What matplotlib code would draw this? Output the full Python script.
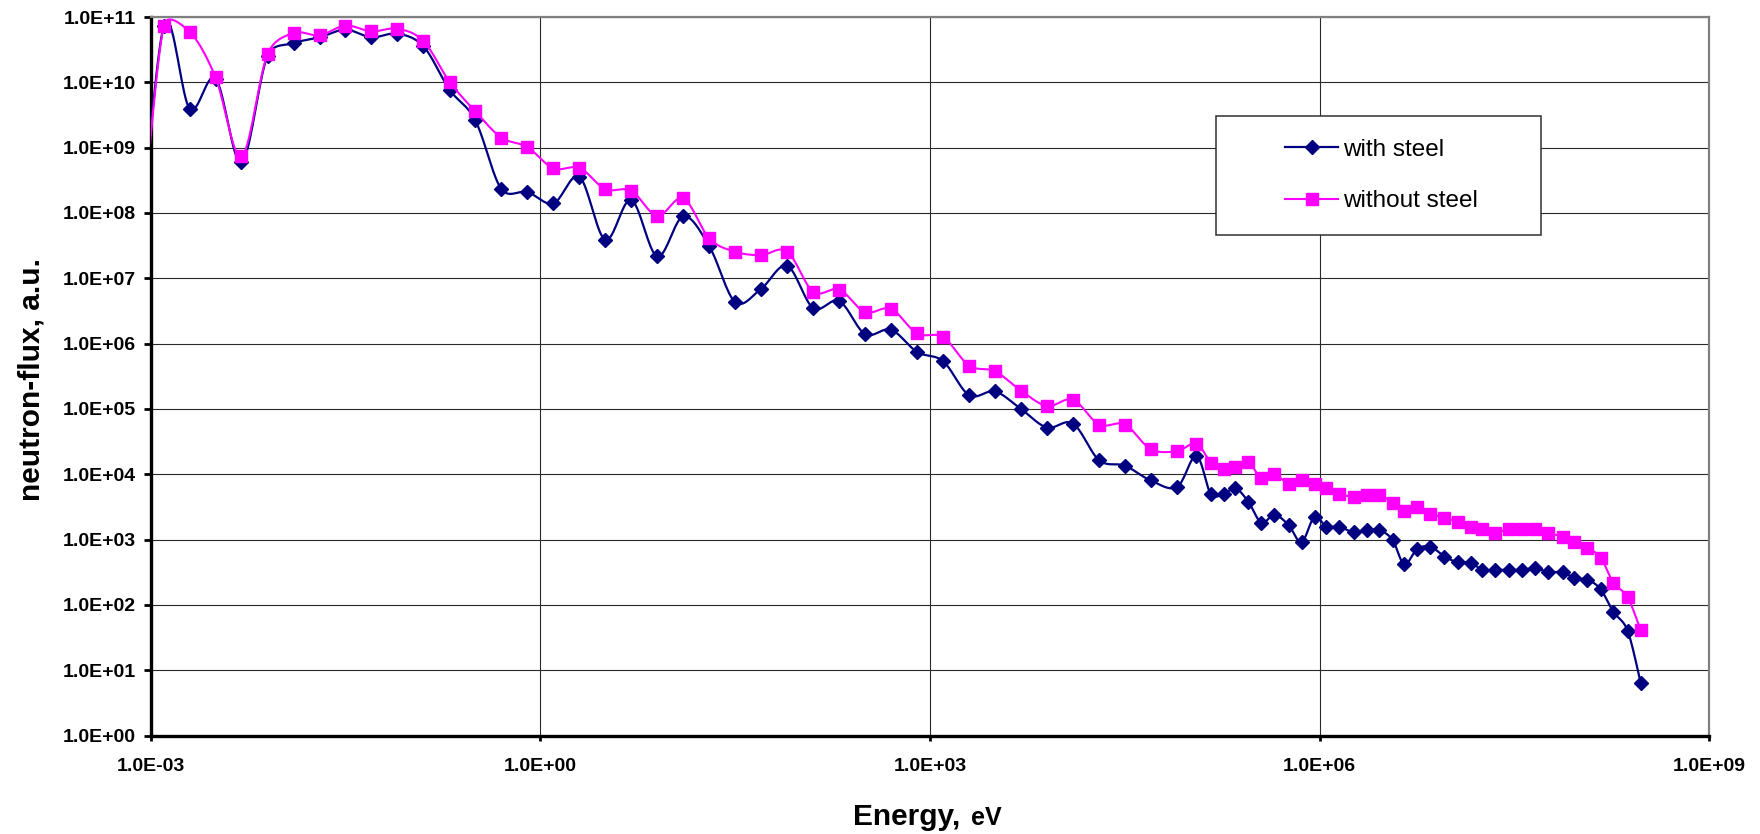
import numpy as np
import matplotlib
matplotlib.use("Agg")
import matplotlib.pyplot as plt
from matplotlib.patches import Rectangle
from matplotlib.lines import Line2D
from matplotlib.ticker import NullLocator

plt.rcParams['font.family'] = ['Liberation Sans', 'DejaVu Sans']

# ---------------- data ----------------
energy_ev = [
    7.94e-4, 1.26e-3, 2.0e-3, 3.16e-3, 5.0e-3, 7.94e-3, 1.26e-2, 2.0e-2, 3.16e-2, 5.0e-2, 7.94e-2,
    0.126, 0.2, 0.316, 0.5, 0.794, 1.26, 2.0, 3.16, 5.0, 7.94,
    12.6, 20.0, 31.6, 50.0, 79.4, 126.0, 200.0, 316.0, 500.0, 794.0,
    1.26e3, 2.0e3, 3.16e3, 5.0e3, 7.94e3, 1.26e4, 2.0e4, 3.16e4, 5.0e4, 7.94e4,
    1.12e5, 1.45e5, 1.82e5, 2.24e5, 2.82e5, 3.55e5, 4.47e5, 5.75e5, 7.24e5, 9.12e5,
    1.12e6, 1.41e6, 1.82e6, 2.29e6, 2.88e6, 3.63e6, 4.47e6, 5.62e6, 7.08e6, 9.12e6,
    1.15e7, 1.45e7, 1.78e7, 2.24e7, 2.88e7, 3.63e7, 4.57e7, 5.75e7, 7.41e7, 9.12e7,
    1.15e8, 1.45e8, 1.82e8, 2.34e8, 2.95e8,
]

flux_with_steel = [
    8.0e6, 7.18e10, 3.94e9, 1.14e10, 5.93e8, 2.55e10, 3.98e10, 4.90e10, 6.40e10, 4.90e10,
    5.55e10, 3.55e10, 7.71e9, 2.61e9, 2.34e8, 2.09e8, 1.40e8, 3.56e8, 3.88e7, 1.58e8,
    2.16e7, 8.85e7, 3.07e7, 4.33e6, 6.90e6, 1.55e7, 3.50e6, 4.48e6, 1.40e6, 1.63e6,
    7.45e5, 5.37e5, 1.62e5, 1.85e5, 1.00e5, 5.19e4, 5.97e4, 1.64e4, 1.35e4, 8.02e3,
    6.34e3, 1.91e4, 4.95e3, 4.95e3, 6.12e3, 3.78e3, 1.81e3, 2.39e3, 1.67e3, 9.16e2,
    2.25e3, 1.58e3, 1.58e3, 1.29e3, 1.39e3, 1.39e3, 9.89e2, 4.20e2, 7.13e2, 7.82e2,
    5.50e2, 4.51e2, 4.45e2, 3.44e2, 3.44e2, 3.44e2, 3.44e2, 3.65e2, 3.17e2, 3.17e2,
    2.57e2, 2.42e2, 1.74e2, 78.2, 40.5, 6.46,
]

flux_without_steel = [
    8.0e6, 7.41e10, 5.89e10, 1.19e10, 7.33e8, 2.69e10, 5.69e10, 5.25e10, 7.41e10, 6.03e10,
    6.61e10, 4.27e10, 1.02e10, 3.59e9, 1.43e9, 1.02e9, 4.82e8, 4.90e8, 2.32e8, 2.19e8,
    9.06e7, 1.67e8, 4.07e7, 2.55e7, 2.26e7, 2.57e7, 6.21e6, 6.73e6, 3.03e6, 3.41e6,
    1.43e6, 1.26e6, 4.60e5, 3.77e5, 1.91e5, 1.11e5, 1.38e5, 5.77e4, 5.77e4, 2.42e4,
    2.26e4, 2.95e4, 1.51e4, 1.22e4, 1.31e4, 1.53e4, 8.71e3, 1.01e4, 7.16e3, 8.20e3,
    7.21e3, 6.25e3, 5.07e3, 4.48e3, 4.82e3, 4.82e3, 3.69e3, 2.78e3, 3.20e3, 2.48e3,
    2.17e3, 1.87e3, 1.55e3, 1.45e3, 1.28e3, 1.45e3, 1.45e3, 1.45e3, 1.25e3, 1.11e3,
    9.12e2, 7.38e2, 5.31e2, 2.20e2, 1.31e2, 41.4,
]

series_labels = ["with steel", "without steel"]
x_ticks = [1e-3, 1e0, 1e3, 1e6, 1e9]
x_tick_labels = ["1.0E-03", "1.0E+00", "1.0E+03", "1.0E+06", "1.0E+09"]
y_ticks = [1e0, 1e1, 1e2, 1e3, 1e4, 1e5, 1e6, 1e7, 1e8, 1e9, 1e10, 1e11]
y_tick_labels = ["1.0E+00", "1.0E+01", "1.0E+02", "1.0E+03", "1.0E+04", "1.0E+05",
                 "1.0E+06", "1.0E+07", "1.0E+08", "1.0E+09", "1.0E+10", "1.0E+11"]
x_label_main = "Energy,"
x_label_unit = "eV"
y_label = "neutron-flux, a.u."

# display scale (pixels per decade) used only for the smoothing geometry
PX_X, PX_Y = 129.8, 65.3


def smooth_loglog(x, y, n=20):
    """Excel-style smoothed line: Bezier with 1/6 tangents, arm capped at half the segment."""
    P = np.column_stack([np.log10(x) * PX_X, np.log10(y) * PX_Y])
    Pe = np.vstack([P[0], P, P[-1]])
    t = np.linspace(0, 1, n)[:, None]
    segs = []
    for i in range(len(P) - 1):
        p0, p1, p2, p3 = Pe[i], Pe[i + 1], Pe[i + 2], Pe[i + 3]
        seg_len = np.hypot(*(p2 - p1))
        d1 = (p2 - p0) / 6.0
        d2 = (p3 - p1) / 6.0
        l1, l2 = np.hypot(*d1), np.hypot(*d2)
        if l1 > seg_len / 2 and l1 > 0:
            d1 = d1 * (seg_len / 2) / l1
        if l2 > seg_len / 2 and l2 > 0:
            d2 = d2 * (seg_len / 2) / l2
        c1 = p1 + d1
        c2 = p2 - d2
        seg = ((1 - t) ** 3) * p1 + 3 * ((1 - t) ** 2) * t * c1 + 3 * (1 - t) * t ** 2 * c2 + t ** 3 * p2
        segs.append(seg if i == 0 else seg[1:])
    S = np.vstack(segs)
    return 10 ** (S[:, 0] / PX_X), 10 ** (S[:, 1] / PX_Y)


fig = plt.figure(figsize=(17.6, 8.34), dpi=100)
ax = fig.add_axes([0.0856, 0.1181, 0.9713 - 0.0856, 0.9796 - 0.1181])

navy = "#000080"
pink = "#FF00FF"

xs, ys = smooth_loglog(energy_ev, flux_with_steel)
ax.plot(xs, ys, color=navy, lw=1.6, zorder=3)
ax.plot(energy_ev, flux_with_steel, linestyle="none", marker="D", ms=6.8,
        color=navy, mec=navy, zorder=4)

xs, ys = smooth_loglog(energy_ev, flux_without_steel)
ax.plot(xs, ys, color=pink, lw=1.5, zorder=5)
ax.plot(energy_ev, flux_without_steel, linestyle="none", marker="s", ms=8.4,
        color=pink, mec=pink, zorder=6)

ax.set_xscale("log")
ax.set_yscale("log")
ax.set_xlim(1e-3, 1e9)
ax.set_ylim(1e0, 1e11)
ax.set_xticks(x_ticks, labels=x_tick_labels, fontweight="bold", fontsize=14)
ax.set_yticks(y_ticks, labels=y_tick_labels, fontweight="bold", fontsize=14)
ax.xaxis.set_minor_locator(NullLocator())
ax.yaxis.set_minor_locator(NullLocator())

ax.grid(True, which="major", color="#2a2a2a", lw=0.8, zorder=1)
ax.set_axisbelow(True)

for side in ("left", "bottom"):
    ax.spines[side].set_color("black")
    ax.spines[side].set_linewidth(2.4)
for side in ("top", "right"):
    ax.spines[side].set_color("#808080")
    ax.spines[side].set_linewidth(1.6)

ax.tick_params(axis="y", direction="out", length=5, width=2, pad=6, colors="black")
ax.tick_params(axis="x", direction="out", length=3.6, width=2, pad=12.5, colors="black")

# axis titles
fig.text(853 / 1760, 1 - 825 / 834, x_label_main, fontsize=21.5, fontweight="bold",
         ha="left", va="baseline")
fig.text(971 / 1760, 1 - 825 / 834, x_label_unit, fontsize=18, fontweight="bold",
         ha="left", va="baseline")
fig.text(31 / 1760, 1 - 379 / 834, y_label, fontsize=21.5, fontweight="bold",
         rotation=90, ha="center", va="center")

# legend box
bx0, bx1 = 0.6834, 0.8919
by0, by1 = 0.6966, 0.8622
ax.add_patch(Rectangle((bx0, by0), bx1 - bx0, by1 - by0, transform=ax.transAxes,
                       facecolor="white", edgecolor="#303030", lw=1.1, zorder=8))
handles = [
    Line2D([], [], color=navy, lw=1.6, marker="D", ms=6.8, mec=navy),
    Line2D([], [], color=pink, lw=1.5, marker="s", ms=8.4, mec=pink),
]
leg = ax.legend(handles, series_labels, loc="center",
                bbox_to_anchor=((bx0 + bx1) / 2 + 0.002, (by0 + by1) / 2),
                frameon=False, fontsize=17.5, handlelength=2.2, handletextpad=0.2,
                labelspacing=1.2, borderpad=0)
leg.set_zorder(9)

fig.savefig("out.png", dpi=100)
